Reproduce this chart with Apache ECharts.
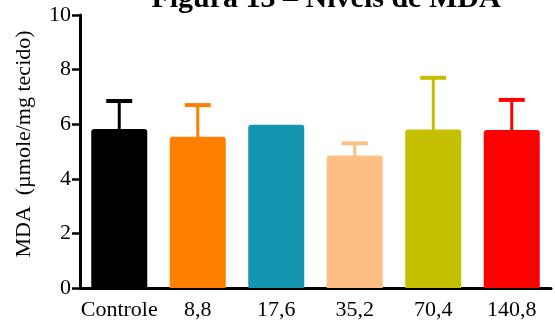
<!DOCTYPE html>
<html>
<head>
<meta charset="utf-8">
<script src="https://cdn.jsdelivr.net/npm/echarts@6/dist/echarts.min.js"></script>
<style>
  html, body { margin: 0; padding: 0; background: #fff; }
  #chart { width: 555px; height: 324px; }
</style>
</head>
<body>
<div id="chart"></div>
<script>
// Groups (dose, with control first)
const categories = ['Controle', '8,8', '17,6', '35,2', '70,4', '140,8'];
// Mean MDA per group
const meanValues = [5.82, 5.54, 5.98, 4.85, 5.81, 5.79];
// Upper error (SD) per group
const sdValues = [1.03, 1.16, 0, 0.45, 1.89, 1.10];
// Bar colours per group
const barColors = ['#000000', '#FF7F00', '#1496B0', '#FDBF84', '#C4C000', '#FF0000'];
// Y axis tick range
const yTicks = { min: 0, max: 10, step: 2 };

const serif = '"Liberation Serif", "DejaVu Serif", serif';

const chart = echarts.init(document.getElementById('chart'), null, { renderer: 'canvas' });

chart.setOption({
  animation: false,
  backgroundColor: '#ffffff',
  title: {
    text: 'Figura 13 – Níveis de MDA',
    left: 321,
    textAlign: 'center',
    top: -21,
    textStyle: { fontFamily: serif, fontSize: 30, fontWeight: 'bold', color: '#000' }
  },
  graphic: [
    {
      type: 'text',
      x: 24,
      y: 144,
      rotation: Math.PI / 2,
      style: {
        text: 'MDA  (µmole/mg tecido)',
        font: '22px ' + serif,
        fill: '#000',
        align: 'center',
        verticalAlign: 'middle'
      }
    }
  ],
  grid: { left: 80, right: 4, top: 15, bottom: 36, containLabel: false },
  xAxis: {
    type: 'category',
    data: categories,
    axisLine: { lineStyle: { color: '#000', width: 3 } },
    axisTick: { alignWithLabel: true, length: 7, lineStyle: { color: '#000', width: 2 } },
    axisLabel: { interval: 0, fontFamily: serif, fontSize: 22, color: '#000', margin: 11 }
  },
  yAxis: {
    type: 'value',
    min: yTicks.min,
    max: yTicks.max,
    interval: yTicks.step,
    axisLine: { show: true, lineStyle: { color: '#000', width: 3 } },
    axisTick: { show: true, length: 8, lineStyle: { color: '#000', width: 2.5 } },
    axisLabel: { fontFamily: serif, fontSize: 22, color: '#000', margin: 9 },
    splitLine: { show: false }
  },
  series: [
    {
      type: 'bar',
      barWidth: 56,
      data: meanValues.map((v, i) => ({
        value: v,
        itemStyle: { color: barColors[i], borderRadius: [3, 3, 0, 0] }
      })),
      z: 2
    },
    {
      type: 'custom',
      z: 1,
      data: meanValues.map((v, i) => [i, v, v + sdValues[i]]),
      renderItem: function (params, api) {
        const i = api.value(0);
        const base = api.coord([i, api.value(1)]);
        const top = api.coord([i, api.value(2)]);
        if (Math.abs(base[1] - top[1]) < 1) return null;
        const color = barColors[i];
        const capHalf = 13;
        return {
          type: 'group',
          children: [
            {
              type: 'line',
              shape: { x1: base[0], y1: base[1] + 2, x2: top[0], y2: top[1] },
              style: { stroke: color, lineWidth: 3 }
            },
            {
              type: 'line',
              shape: { x1: top[0] - capHalf, y1: top[1], x2: top[0] + capHalf, y2: top[1] },
              style: { stroke: color, lineWidth: 4 }
            }
          ]
        };
      }
    }
  ]
});
</script>
</body>
</html>
